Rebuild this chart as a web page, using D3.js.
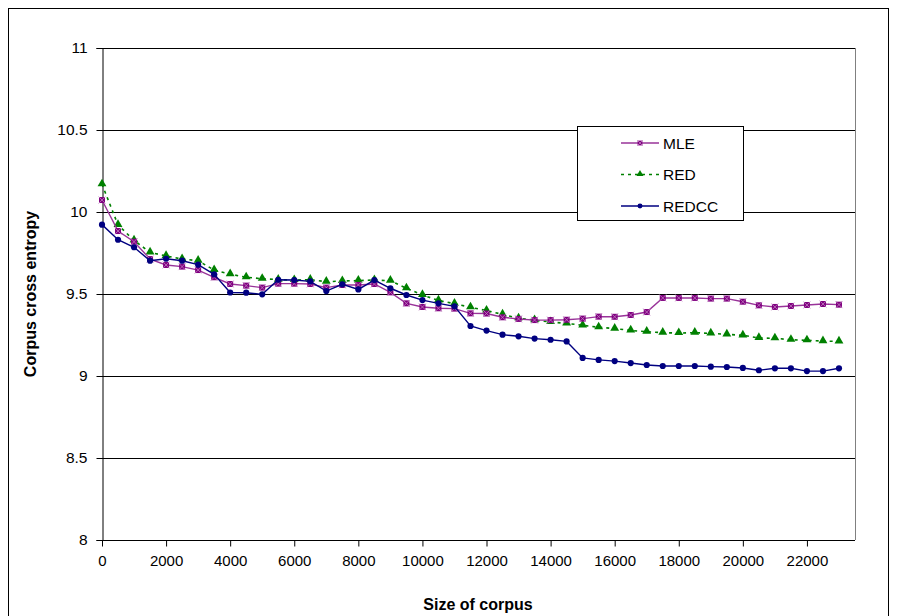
<!DOCTYPE html>
<html>
<head>
<meta charset="utf-8">
<script src="https://cdn.jsdelivr.net/npm/d3@7"></script>
<style>
  html, body { margin: 0; padding: 0; background: #fff; }
  svg { display: block; font-family: "Liberation Sans", Arial, sans-serif; }
</style>
</head>
<body>
<svg id="chart" width="897" height="616"></svg>
<script>
// Corpus sizes (x) and cross-entropy for each estimator
const corpusSizes = d3.range(0, 23001, 500);
const mle = [10.073, 9.884, 9.819, 9.713, 9.677, 9.667, 9.646, 9.602, 9.561, 9.551,
  9.539, 9.563, 9.563, 9.561, 9.539, 9.555, 9.555, 9.561, 9.510, 9.443,
  9.421, 9.413, 9.411, 9.382, 9.381, 9.358, 9.348, 9.341, 9.341, 9.343,
  9.350, 9.362, 9.361, 9.372, 9.390, 9.476, 9.476, 9.476, 9.472, 9.472,
  9.453, 9.431, 9.421, 9.427, 9.433, 9.439, 9.435];
const red = [10.169, 9.921, 9.827, 9.754, 9.732, 9.713, 9.703, 9.646, 9.621, 9.602,
  9.593, 9.588, 9.585, 9.587, 9.575, 9.579, 9.582, 9.585, 9.581, 9.535,
  9.494, 9.461, 9.441, 9.419, 9.399, 9.376, 9.352, 9.341, 9.329, 9.321,
  9.309, 9.297, 9.289, 9.278, 9.270, 9.264, 9.262, 9.264, 9.260, 9.254,
  9.248, 9.232, 9.230, 9.221, 9.218, 9.213, 9.211];
const redcc = [9.923, 9.831, 9.785, 9.703, 9.715, 9.703, 9.679, 9.620, 9.509, 9.508,
  9.498, 9.587, 9.585, 9.577, 9.518, 9.559, 9.528, 9.585, 9.535, 9.494,
  9.463, 9.443, 9.425, 9.305, 9.277, 9.252, 9.242, 9.228, 9.221, 9.211,
  9.110, 9.098, 9.091, 9.079, 9.067, 9.061, 9.061, 9.061, 9.057, 9.055,
  9.049, 9.035, 9.047, 9.047, 9.030, 9.030, 9.047];
const seriesNames = ["MLE", "RED", "REDCC"];
const xTicks = d3.range(0, 22001, 2000);
const yTicks = [8, 8.5, 9, 9.5, 10, 10.5, 11];

const svg = d3.select("#chart");
const plot = { left: 102, right: 855, top: 48, bottom: 540 };

const x = d3.scaleLinear().domain([0, 23500]).range([plot.left, plot.right]);
const y = d3.scaleLinear().domain([8, 11]).range([plot.bottom, plot.top]);

// Outer chart frame
svg.append("rect")
  .attr("x", 8.5).attr("y", 8.5).attr("width", 880).attr("height", 620)
  .attr("fill", "#fff").attr("stroke", "#000").attr("stroke-width", 1);

// Plot area right border
svg.append("line")
  .attr("x1", plot.right + 0.5).attr("x2", plot.right + 0.5)
  .attr("y1", plot.top).attr("y2", plot.bottom)
  .attr("stroke", "#808080");

// Horizontal gridlines
svg.append("g")
  .selectAll("line")
  .data(yTicks.filter(v => v > 8))
  .join("line")
  .attr("x1", plot.left).attr("x2", plot.right)
  .attr("y1", d => Math.round(y(d)) + 0.5).attr("y2", d => Math.round(y(d)) + 0.5)
  .attr("stroke", "#000");

// Y axis
const yAxis = svg.append("g")
  .attr("transform", `translate(${plot.left + 0.5},0)`)
  .call(d3.axisLeft(y).tickValues(yTicks).tickSize(6).tickPadding(9)
    .tickFormat(d => d3.format("")(d)));
yAxis.select(".domain").attr("stroke", "#000");
yAxis.selectAll(".tick line").attr("stroke", "#000");
yAxis.selectAll("text").attr("font-size", 15.5).attr("fill", "#000")
  .attr("font-family", "Liberation Sans, Arial, sans-serif");

// X axis
const xAxis = svg.append("g")
  .attr("transform", `translate(0,${plot.bottom + 0.5})`)
  .call(d3.axisBottom(x).tickValues(xTicks).tickSize(6).tickPadding(9)
    .tickFormat(d3.format("d")));
xAxis.select(".domain").attr("d", `M${plot.left},0H${plot.right}`).attr("stroke", "#000");
xAxis.selectAll(".tick line").attr("stroke", "#000");
xAxis.selectAll("text").attr("font-size", 15).attr("fill", "#000")
  .attr("font-family", "Liberation Sans, Arial, sans-serif");

// Axis titles
svg.append("text")
  .attr("x", 478).attr("y", 610)
  .attr("text-anchor", "middle")
  .attr("font-size", 16).attr("font-weight", "bold")
  .text("Size of corpus");
svg.append("text")
  .attr("transform", `translate(36,${(plot.top + plot.bottom) / 2}) rotate(-90)`)
  .attr("text-anchor", "middle")
  .attr("font-size", 16).attr("font-weight", "bold")
  .text("Corpus cross entropy");

// Series styling
const styles = {
  MLE:   { values: mle,   color: "#993399", marker: "#800080", dash: null, shape: "square" },
  RED:   { values: red,   color: "#008000", marker: "#008000", dash: "3,4", shape: "triangle" },
  REDCC: { values: redcc, color: "#000080", marker: "#000080", dash: null, shape: "diamond" }
};

const line = d3.line().x((d, i) => x(corpusSizes[i])).y(d => y(d));

function drawMarker(g, shape, color, cx, cy, small) {
  const s = small ? 0.8 : 1;
  if (shape === "square") {
    g.append("rect")
      .attr("x", cx - 3 * s).attr("y", cy - 3 * s)
      .attr("width", 6 * s).attr("height", 6 * s)
      .attr("fill", color);
    g.append("path")
      .attr("d", `M${cx - 3.5 * s},${cy - 3.5 * s}L${cx + 3.5 * s},${cy + 3.5 * s}M${cx + 3.5 * s},${cy - 3.5 * s}L${cx - 3.5 * s},${cy + 3.5 * s}`)
      .attr("stroke", "#c080c0").attr("stroke-width", 0.8);
  } else if (shape === "triangle") {
    g.append("path")
      .attr("d", d3.symbol(d3.symbolTriangle, 34 * s * s)())
      .attr("transform", `translate(${cx},${cy - 0.5})`)
      .attr("fill", color);
  } else {
    g.append("path")
      .attr("d", d3.symbol(d3.symbolCircle, 30 * s * s)())
      .attr("transform", `translate(${cx},${cy})`)
      .attr("fill", color);
  }
}

const order = ["RED", "MLE", "REDCC"];
order.forEach(name => {
  const st = styles[name];
  const g = svg.append("g");
  g.append("path")
    .datum(st.values)
    .attr("d", line)
    .attr("fill", "none")
    .attr("stroke", st.color)
    .attr("stroke-width", name === "RED" ? 1.6 : 1.4)
    .attr("stroke-dasharray", st.dash);
  st.values.forEach((v, i) => drawMarker(g, st.shape, st.marker, x(corpusSizes[i]), y(v)));
});

// Legend
const legend = svg.append("g");
legend.append("rect")
  .attr("x", 577.5).attr("y", 126.5).attr("width", 166).attr("height", 94)
  .attr("fill", "#fff").attr("stroke", "#000");
seriesNames.forEach((name, i) => {
  const st = styles[name];
  const ly = 143 + i * 31.5;
  legend.append("line")
    .attr("x1", 621).attr("x2", 659).attr("y1", ly).attr("y2", ly)
    .attr("stroke", st.color).attr("stroke-width", 1.4)
    .attr("stroke-dasharray", st.dash);
  drawMarker(legend, st.shape, st.marker, 640, ly, true);
  legend.append("text")
    .attr("x", 663).attr("y", ly + 5.5)
    .attr("font-size", 15.5)
    .text(name);
});
</script>
</body>
</html>
